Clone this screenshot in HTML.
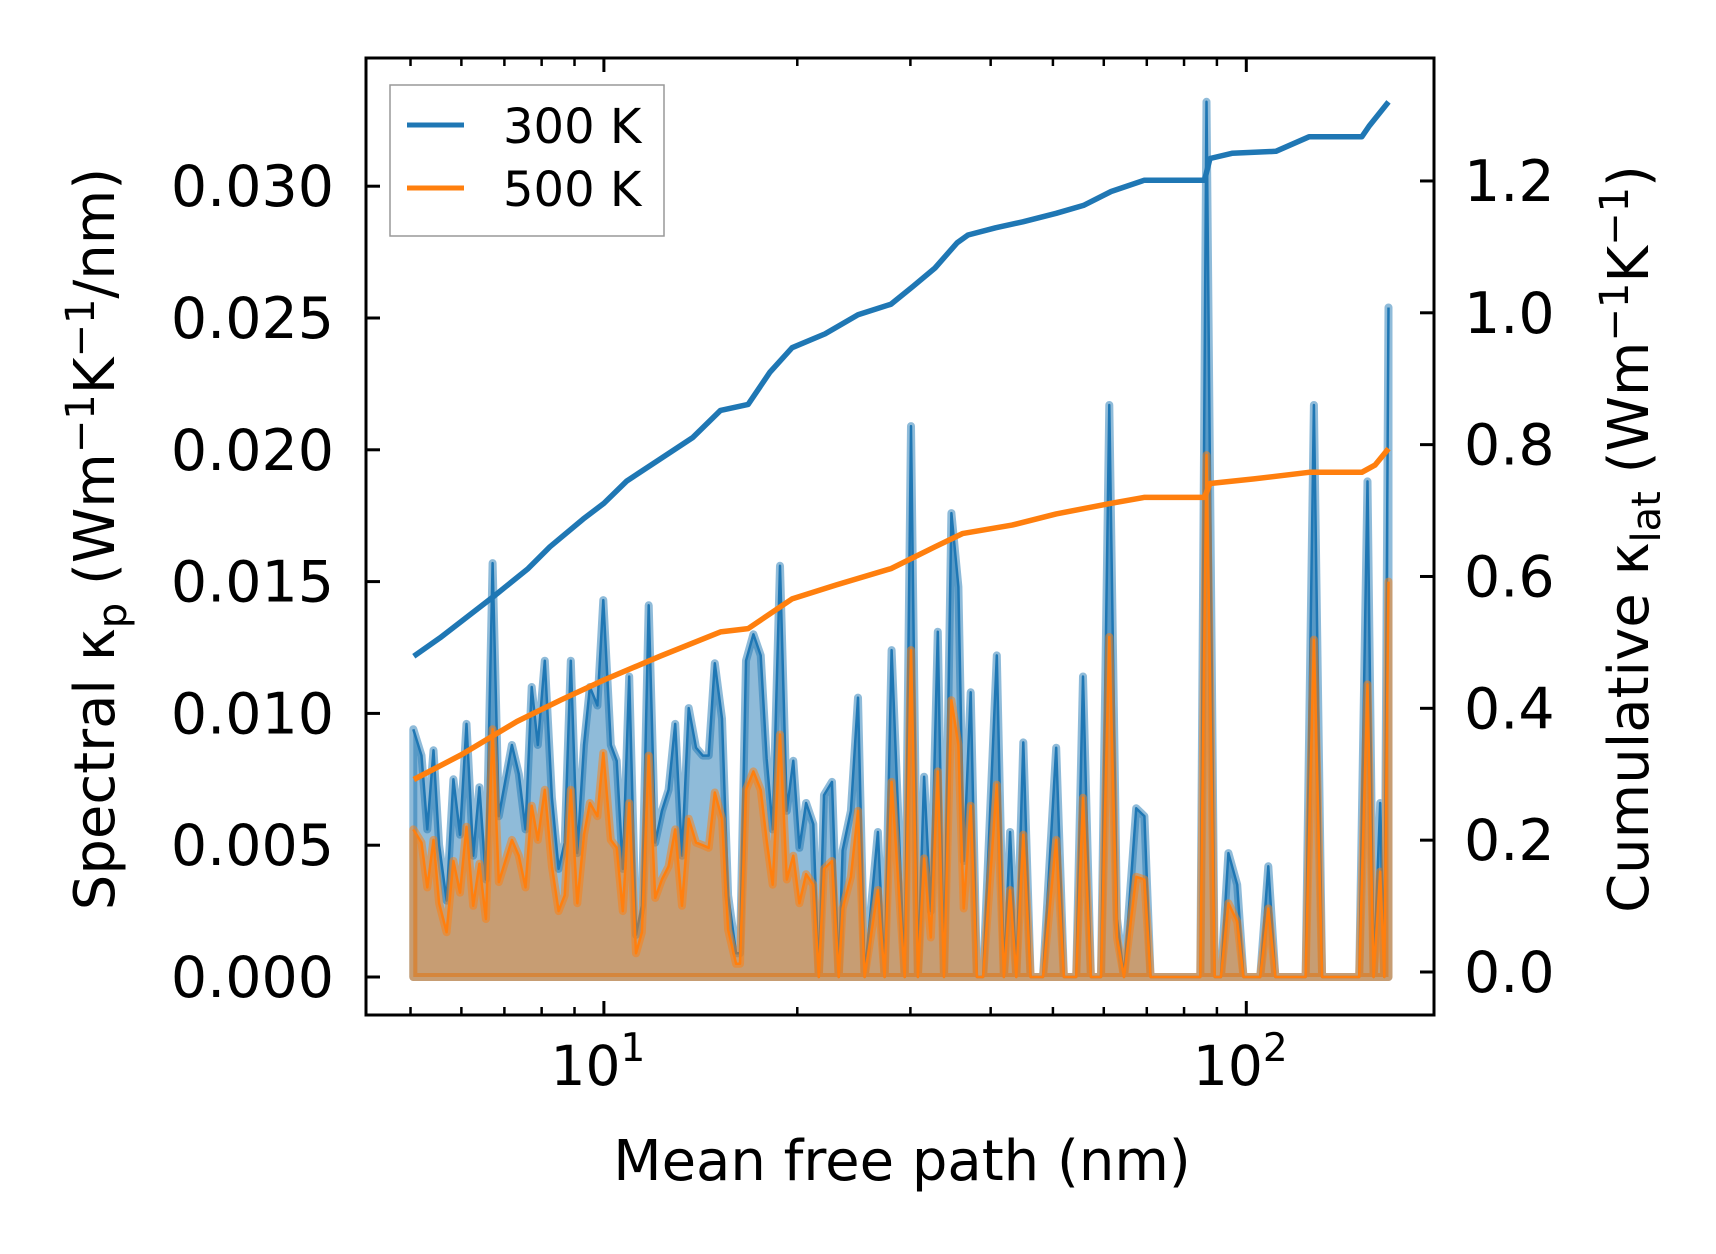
<!DOCTYPE html>
<html><head><meta charset="utf-8"><style>
html,body{margin:0;padding:0;background:#fff;}
svg{display:block;font-family:"DejaVu Sans","Liberation Sans",sans-serif;}
</style></head><body>
<svg id="chart" width="1716" height="1254" viewBox="0 0 1716 1254" xmlns="http://www.w3.org/2000/svg">
<rect x="0" y="0" width="1716" height="1254" fill="#fff"/>
<defs><clipPath id="clip"><rect x="366" y="58" width="1068" height="957"/></clipPath></defs>
<g id="fills" clip-path="url(#clip)"></g>
<rect x="366" y="58" width="1068" height="957" fill="none" stroke="#000" stroke-width="3"/>
<g id="ticks"></g>
<text x="902" y="1180" font-size="56" text-anchor="middle">Mean free path (nm)</text>
<text transform="translate(114,539) rotate(-90)" font-size="56" text-anchor="middle">Spectral κ<tspan font-size="40" dy="12">p</tspan><tspan dy="-12"> (Wm</tspan><tspan font-size="40" dy="-20">−1</tspan><tspan dy="20">K</tspan><tspan font-size="40" dy="-20">−1</tspan><tspan dy="20">/nm)</tspan></text>
<text transform="translate(1648,539) rotate(-90)" font-size="56" text-anchor="middle">Cumulative κ<tspan font-size="40" dy="12">lat</tspan><tspan dy="-12"> (Wm</tspan><tspan font-size="40" dy="-20">−1</tspan><tspan dy="20">K</tspan><tspan font-size="40" dy="-20">−1</tspan><tspan dy="20">)</tspan></text>
<g>
<rect x="390" y="85" width="274" height="151" fill="#fff" fill-opacity="0.8" stroke="#999" stroke-width="1.5"/>
<line x1="407" y1="125" x2="464" y2="125" stroke="#1f77b4" stroke-width="5"/>
<text x="503" y="143" font-size="48">300 K</text>
<line x1="407" y1="188" x2="464" y2="188" stroke="#ff7f0e" stroke-width="5"/>
<text x="503" y="206" font-size="48">500 K</text>
</g>
</svg>
<script>
const mfp=[5.05,5.20,5.31,5.43,5.54,5.69,5.83,5.97,6.11,6.26,6.40,6.55,6.71,6.86,7.19,7.37,7.55,7.72,7.89,8.09,8.30,8.50,8.69,8.88,9.09,9.31,9.51,9.77,9.98,10.25,10.47,10.70,10.95,11.22,11.46,11.74,12.02,12.31,12.61,12.91,13.23,13.55,13.91,14.25,14.56,14.88,15.27,15.61,16.06,16.29,16.64,17.09,17.54,17.92,18.31,18.80,19.26,19.72,20.15,20.64,21.18,21.60,22.01,22.65,23.20,23.53,24.24,24.86,25.46,26.70,27.35,28.04,29.39,30.06,30.82,31.51,32.27,33.10,33.84,34.75,35.63,36.32,37.24,38.07,38.93,40.89,41.94,42.88,43.85,44.96,46.16,48.25,50.6,52.0,54.35,55.7,57.3,59.4,61.2,62.9,64.5,67.4,69.4,70.97,84.8,86.7,89.3,91.3,93.8,96.8,99.0,105.1,108.2,111.0,123.7,127.4,131.2,149.9,154.4,157.8,161.6,164.0,166.5];
const kp300=[0.0094,0.0084,0.0056,0.0086,0.0050,0.0029,0.0075,0.0054,0.0096,0.0046,0.0072,0.0037,0.0157,0.0061,0.0088,0.0077,0.0056,0.0110,0.0088,0.0120,0.0068,0.0041,0.0051,0.0120,0.0047,0.0088,0.0110,0.0103,0.0143,0.0088,0.0082,0.0041,0.0114,0.0016,0.0027,0.0141,0.0051,0.0063,0.0071,0.0096,0.0046,0.0102,0.0087,0.0084,0.0084,0.0119,0.0098,0.0031,0.0009,0.0009,0.0120,0.0130,0.0122,0.0083,0.0056,0.0156,0.0063,0.0082,0.0049,0.0066,0.0058,0,0.0069,0.0074,0,0.0048,0.0063,0.0106,0,0.0055,0,0.0124,0,0.0209,0,0.0076,0.0025,0.0131,0,0.0176,0.0148,0.0044,0.0108,0,0,0.0122,0,0.0055,0,0.0089,0,0,0.0087,0,0,0.0114,0,0,0.0217,0.0022,0,0.0064,0.0061,0,0,0.0332,0,0,0.0047,0.0035,0,0,0.0042,0,0,0.0217,0,0,0.0188,0,0.0066,0,0.0254];
const kp500=[0.0056,0.0051,0.0034,0.0052,0.0028,0.0017,0.0044,0.0032,0.0057,0.0027,0.0043,0.0022,0.0094,0.0036,0.0052,0.0046,0.0034,0.0065,0.0052,0.0071,0.0042,0.0025,0.0031,0.0071,0.0028,0.0054,0.0066,0.0061,0.0085,0.0052,0.0049,0.0025,0.0066,0.0009,0.0017,0.0084,0.0030,0.0037,0.0042,0.0056,0.0027,0.0060,0.0051,0.0050,0.0049,0.0070,0.0060,0.0018,0.0005,0.0005,0.0071,0.0078,0.0071,0.0052,0.0035,0.0092,0.0037,0.0046,0.0028,0.0039,0.0035,0,0.0041,0.0044,0,0.0026,0.0038,0.0063,0,0.0033,0,0.0074,0,0.0124,0,0.0045,0.0015,0.0078,0,0.0105,0.0088,0.0026,0.0065,0,0,0.0073,0,0.0033,0,0.0054,0,0,0.0052,0,0,0.0068,0,0,0.0129,0.0015,0,0.0038,0.0037,0,0,0.0198,0,0,0.0028,0.0021,0,0,0.0026,0,0,0.0128,0,0,0.0111,0,0.0040,0,0.0150];
const cumMfp300=[5.06,5.56,6.74,7.62,8.24,9.28,10,10.86,12.23,13.76,15.19,16.77,18.14,19.63,22.09,24.86,27.98,30.28,32.77,35.45,36.88,40.7,44.9,50.6,55.8,61.6,69.3,86.1,87.8,95.0,111.2,125.2,151.3,155.5,166.5];
const cum300=[0.479,0.507,0.570,0.612,0.645,0.687,0.711,0.745,0.778,0.811,0.852,0.861,0.910,0.947,0.968,0.997,1.013,1.040,1.068,1.106,1.118,1.129,1.138,1.151,1.163,1.184,1.201,1.201,1.234,1.242,1.245,1.267,1.267,1.284,1.320];
const cumMfp500=[5.06,6.01,7.32,8.58,10,12.23,15.19,16.77,19.63,22.98,27.98,32.77,36.15,43.2,50.6,61.6,69.3,86.1,87.8,102.8,125.2,151.3,158.6,166.5];
const cum500=[0.292,0.330,0.380,0.413,0.443,0.479,0.516,0.521,0.566,0.587,0.612,0.645,0.665,0.678,0.695,0.711,0.720,0.720,0.741,0.748,0.758,0.758,0.769,0.794];
const leftTicks=[0,0.005,0.010,0.015,0.020,0.025,0.030];
const leftTickLabels=["0.000","0.005","0.010","0.015","0.020","0.025","0.030"];
const rightTicks=[0,0.2,0.4,0.6,0.8,1.0,1.2];
const rightTickLabels=["0.0","0.2","0.4","0.6","0.8","1.0","1.2"];
const xMajor=[10,100];
const xMajorExp=["1","2"];
const xMinor=[5,6,7,8,9,20,30,40,50,60,70,80,90];

const NS="http://www.w3.org/2000/svg";
const X=m=>603.9+(Math.log10(m)-1)*642.4;
const YL=v=>977-v/0.005*131.8;
const YR=v=>972-v*659.2;
function mk(tag,attrs,parent){const e=document.createElementNS(NS,tag);for(const k in attrs)e.setAttribute(k,attrs[k]);parent.appendChild(e);return e;}
const fills=document.getElementById('fills');
const ticks=document.getElementById('ticks');
function area(vals,color,name){
  let pts=mfp.map((m,i)=>X(m).toFixed(1)+','+YL(vals[i]).toFixed(1));
  const poly=[X(mfp[0]).toFixed(1)+','+YL(0)].concat(pts,[X(mfp[mfp.length-1]).toFixed(1)+','+YL(0)]).join(' ');
  const a=mk('polygon',{points:poly,fill:color,'fill-opacity':0.5,stroke:color,'stroke-opacity':0.5,'stroke-width':8,'stroke-linejoin':'round'},fills);
  
  
  const l=mk('polyline',{points:pts.join(' '),fill:'none',stroke:color,'stroke-width':2.5,'stroke-linejoin':'round'},fills);
  
  
}
area(kp300,'#1f77b4','spectral-300k');
area(kp500,'#ff7f0e','spectral-500k');
function cum(xs,vs,color,name){
  const pts=xs.map((m,i)=>X(m).toFixed(1)+','+YR(vs[i]).toFixed(1)).join(' ');
  const l=mk('polyline',{points:pts,fill:'none',stroke:color,'stroke-width':5.5,'stroke-linejoin':'round'},fills);
  
  
}
cum(cumMfp300,cum300,'#1f77b4','cumulative-300k');
cum(cumMfp500,cum500,'#ff7f0e','cumulative-500k');
leftTicks.forEach((v,i)=>{
  const y=YL(v);
  const t=mk('line',{x1:366,x2:380,y1:y,y2:y,stroke:'#000','stroke-width':3},ticks);
  
  
  const tx=mk('text',{x:334,y:y+20,'font-size':57,'text-anchor':'end'},ticks);
  tx.textContent=leftTickLabels[i];
  
  
});
rightTicks.forEach((v,i)=>{
  const y=YR(v);
  const t=mk('line',{x1:1420,x2:1434,y1:y,y2:y,stroke:'#000','stroke-width':3},ticks);
  
  
  const tx=mk('text',{x:1464,y:y+20,'font-size':57},ticks);
  tx.textContent=rightTickLabels[i];
  
  
});
xMajor.forEach((m,i)=>{
  const x=X(m);
  [[1015,1001],[58,72]].forEach(p=>{const t=mk('line',{x1:x,x2:x,y1:p[0],y2:p[1],stroke:'#000','stroke-width':3},ticks);
  
  });
  const tx=mk('text',{x:x-6,y:1085,'font-size':55,'text-anchor':'middle'},ticks);
  tx.innerHTML='10<tspan font-size="39" dy="-24">'+xMajorExp[i]+'</tspan>';
  
  
});
xMinor.forEach(m=>{
  const x=X(m);
  [[1015,1007],[58,66]].forEach(p=>{const t=mk('line',{x1:x,x2:x,y1:p[0],y2:p[1],stroke:'#000','stroke-width':2.5},ticks);
  
  });
});
</script>
</body></html>
